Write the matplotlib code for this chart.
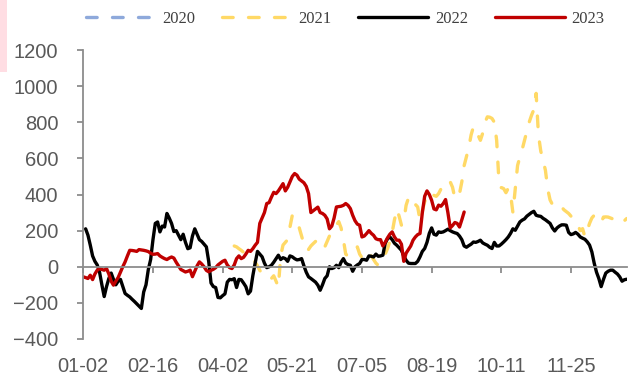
import numpy as np
import matplotlib
matplotlib.use("Agg")
import matplotlib.pyplot as plt
from matplotlib.patches import Rectangle

# Trading-day axis (one slot per session) and its labelled dates
n_days = 235
tick_days = [0, 30, 60, 90, 120, 150, 180, 210]
tick_labels = ["01-02", "02-16", "04-02", "05-21", "07-05", "08-19", "10-11", "11-25"]

nan = np.nan

# 2020: no observations on this axis
values_2020 = []

# 2021 (missing before early April)
values_2021 = [nan] * 65 + [
    115, 110, 100, 91, 80, 70, 58, 48, 38, 27,
    5, -20, -40, -55, -65, -65, -65, -50, -80, -112,
    60, 120, 135, 150, 220, 285, 260, 248, 215, 170,
    125, 91, 96, 115, 128, 140, 147, 148, 147, 110,
    140, 170, 202, 215, 230, 250, 215, 150, 70, 58,
    64, 80, 95, 110, 70, 50, 36, 54, 70, 60,
    40, 20, 8, 25, 45, 70, 100, 140, 190, 260,
    320, 280, 230, 250, 340, 380, 390, 360, 345, 331,
    257, 310, 360, 390, 405, 414, 395, 390, 405, 430,
    461, 455, 460, 470, 440, 380, 380, 405, 470, 560,
    610, 660, 730, 775, 770, 728, 700, 740, 800, 830,
    828, 821, 800, 700, 470, 438, 433, 410, 435, 400,
    300, 430, 560, 608, 650, 700, 750, 800, 838, 870,
    960, 730, 640, 590, 534, 430, 370, 345, 341, 345,
    350, 330, 315, 305, 295, 280, 265, 255, 230, 200,
    211, 165, 200, 240, 270, 285, 265, 257, 245, 275,
    276, 275, 270, 265, 255, 245, 240, 245, 255, 267,
]

# 2022
values_2022 = [
    nan, 210, 175, 120, 60, 30, 10, -30, -100, -165,
    -110, -65, -35, -70, -100, -80, -70, -110, -148, -158,
    -167, -180, -192, -205, -218, -231, -140, -100, -15, 40,
    150, 240, 248, 193, 225, 220, 295, 270, 240, 195,
    200, 175, 150, 180, 135, 100, 105, 170, 210, 180,
    150, 140, 125, 110, 30, -90, -110, -115, -170, -172,
    -160, -150, -85, -70, -72, -66, -115, -70, -72, -90,
    -110, -150, -135, -50, 20, 85, 70, 55, 20, -5,
    0, 8, 25, 45, 64, 40, 50, 45, 30, 60,
    55, 45, 38, 40, 45, 5, -30, -56, -65, -75,
    -85, -102, -130, -100, -65, -50, 0, -10, -5, 8,
    -5, 25, 45, 20, 12, 8, -25, 0, 10, 18,
    40, 40, 36, 60, 58, 54, 70, 58, 60, 64,
    130, 155, 165, 150, 130, 119, 105, 91, 60, 36,
    20, 18, 18, 18, 30, 55, 85, 101, 135, 185,
    215, 180, 175, 193, 190, 193, 200, 208, 200, 193,
    188, 184, 170, 150, 115, 108, 117, 125, 137, 135,
    140, 147, 132, 125, 119, 108, 101, 135, 115, 115,
    125, 137, 150, 165, 185, 210, 202, 225, 248, 258,
    265, 280, 290, 300, 307, 285, 281, 279, 268, 260,
    250, 240, 215, 198, 215, 225, 232, 232, 230, 190,
    178, 182, 190, 180, 165, 158, 152, 138, 120, 82,
    20, -30, -65, -110, -70, -35, -25, -19, -19, -30,
    -40, -56, -80, -72, -69,
]

# 2023 (year to date)
values_2023 = [
    -56, -60, -65, -47, -71, -40, -19, -10, -15, -19,
    -10, -40, -80, -102, -80, -60, -30, 0, 27, 60,
    91, 90, 88, 85, 95, 93, 91, 88, 84, 75,
    69, 70, 73, 60, 52, 45, 40, 48, 54, 48,
    25, 5, -15, -22, -29, -25, -19, -55, -25, 5,
    27, 15, 0, -20, -28, -20, -14, -5, 10, 20,
    30, 36, 10, -5, -10, 10, 45, 60, 45, 52,
    70, 91, 85, 100, 119, 135, 240, 270, 300, 350,
    355, 385, 412, 405, 420, 440, 460, 420, 440, 470,
    500, 516, 507, 485, 475, 465, 445, 405, 300, 310,
    320, 330, 300, 295, 285, 265, 210, 225, 270, 331,
    333, 335, 340, 350, 340, 322, 285, 255, 236, 230,
    165, 170, 184, 200, 185, 174, 155, 150, 150, 115,
    135, 160, 180, 193, 165, 147, 147, 125, 30, 75,
    95, 115, 147, 165, 178, 184, 300, 390, 420, 400,
    368, 320, 315, 341, 335, 350, 372, 300, 215, 228,
    245, 240, 220, 260, 303,
]

series = [
    ("2020", values_2020, "#8EA9DB", "dashed"),
    ("2021", values_2021, "#FFD966", "dashed"),
    ("2022", values_2022, "#000000", "solid"),
    ("2023", values_2023, "#C00000", "solid"),
]

axis_grey = "#8C8C8C"
label_grey = "#595959"
line_w = 2.4

fig = plt.figure(figsize=(6.4, 3.76), dpi=100)
ax = fig.add_axes([83.3 / 640, 1 - 339 / 376, (626.7 - 83.3) / 640, (339 - 50) / 376])

# thin pink strip at the left edge of the canvas
fig.patches.append(Rectangle((0, 1 - 72 / 376), 7 / 640, 72 / 376,
                             transform=fig.transFigure, facecolor="#FFDDE3",
                             edgecolor="none", zorder=0))

handles = []
for name, vals, color, style in series:
    y = np.asarray(vals, dtype=float)
    x = np.arange(len(y))
    if style == "dashed":
        (ln,) = ax.plot(x, y, color=color, lw=line_w, dashes=(3.2, 4.6),
                        dash_capstyle="round", solid_capstyle="round", label=name)
    else:
        (ln,) = ax.plot(x, y, color=color, lw=line_w, solid_capstyle="round",
                        solid_joinstyle="round", label=name)
    handles.append(ln)

ax.set_xlim(0, n_days - 1)
ax.set_ylim(-400, 1200)
ax.set_yticks(np.arange(-400, 1201, 200))

for side in ("top", "right"):
    ax.spines[side].set_visible(False)
ax.spines["left"].set_color(axis_grey)
ax.spines["left"].set_linewidth(1.3)
ax.spines["bottom"].set_position(("data", 0))
ax.spines["bottom"].set_color(axis_grey)
ax.spines["bottom"].set_linewidth(1.3)

ax.set_xticks(tick_days)
ax.tick_params(axis="x", direction="out", length=4, width=1.3, color=axis_grey,
               labelbottom=False)
ax.tick_params(axis="y", direction="out", length=4, width=1.3, color=axis_grey,
               pad=14, labelsize=14.5, labelcolor=label_grey)
for t in ax.get_yticklabels():
    t.set_fontfamily("Liberation Sans")

# date labels sit below the plot area, while the category axis crosses at zero
sec = ax.secondary_xaxis("bottom")
sec.set_xticks(tick_days, tick_labels)
sec.spines["bottom"].set_visible(False)
sec.tick_params(length=0, pad=13, labelsize=14.5, labelcolor=label_grey)
for t in sec.get_xticklabels():
    t.set_fontfamily("Liberation Sans")

leg = fig.legend(handles=handles, loc="center", bbox_to_anchor=(0.539, 1 - 19 / 376),
                 ncol=4, frameon=False, handlelength=4.2, handletextpad=0.4,
                 columnspacing=1.6, borderpad=0,
                 prop={"family": "Liberation Serif", "size": 12})
for t in leg.get_texts():
    t.set_color("#404040")

fig.savefig("out.png", dpi=100)
